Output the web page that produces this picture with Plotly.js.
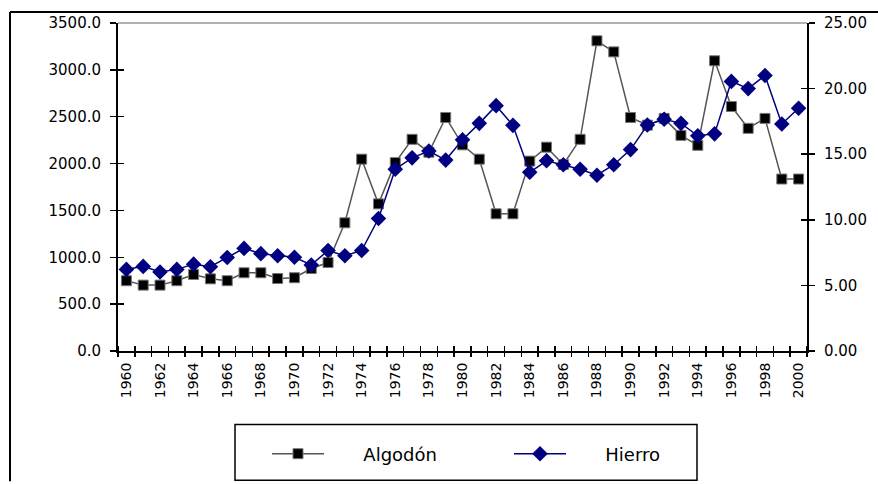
<!DOCTYPE html>
<html>
<head>
<meta charset="utf-8">
<script src="https://cdn.plot.ly/plotly-3.0.1.min.js"></script>
<style>html,body{margin:0;padding:0;background:#fff;}#chart{width:878px;height:484px;}</style>
</head>
<body>
<div id="chart"></div>
<script>
const years = [1960,1961,1962,1963,1964,1965,1966,1967,1968,1969,1970,1971,1972,1973,1974,1975,1976,1977,1978,1979,1980,1981,1982,1983,1984,1985,1986,1987,1988,1989,1990,1991,1992,1993,1994,1995,1996,1997,1998,1999,2000];
const algodon = [750,703,703,750,817,770,750,835,835,774,782,880,944,1368,2047,1570,2010,2259,2121,2492,2200,2047,1464,1464,2026,2175,1990,2259,3310,3192,2492,2410,2482,2301,2195,3097,2609,2376,2482,1835,1835];
const hierro = [6.22,6.45,6.02,6.22,6.62,6.42,7.13,7.82,7.42,7.26,7.14,6.56,7.66,7.26,7.66,10.1,13.86,14.72,15.24,14.55,16.1,17.35,18.7,17.2,13.62,14.5,14.2,13.85,13.4,14.2,15.35,17.22,17.66,17.35,16.4,16.55,20.55,20.0,21.0,17.3,18.5];
const seriesNames = ['Algodón', 'Hierro'];
const leftTicks = [0,500,1000,1500,2000,2500,3000,3500];
const rightTicks = [0,5,10,15,20,25];
const yearLabels = years.filter(y => y % 2 === 0);
const boundaries = years.map(y => y - 0.5).concat([years[years.length-1] + 0.5]);

const xr = [years[0] - 0.5, years[years.length-1] + 0.5];
const fontY = {family: 'DejaVu Sans, Arial, sans-serif', size: 15, color: '#000'};
const fontX = {family: 'DejaVu Sans, Arial, sans-serif', size: 14, color: '#000'};
const gap = '\u00a0\u00a0\u00a0\u00a0\u00a0\u00a0';

const traces = [
  {x: years, y: algodon, name: gap + seriesNames[0], type: 'scatter', mode: 'lines+markers', xaxis: 'x', yaxis: 'y',
   line: {color: '#555555', width: 1.5},
   marker: {symbol: 'square', size: 10, color: '#000', line: {color: '#777', width: 1}}},
  {x: years, y: hierro, name: gap + seriesNames[1], type: 'scatter', mode: 'lines+markers', xaxis: 'x', yaxis: 'y2',
   line: {color: '#000080', width: 1.5},
   marker: {symbol: 'diamond', size: 12, color: '#000080'}},
  {x: [], y: [], xaxis: 'x2', yaxis: 'y3', showlegend: false, hoverinfo: 'skip', type: 'scatter'},
  {x: [], y: [], xaxis: 'x2', yaxis: 'y4', showlegend: false, hoverinfo: 'skip', type: 'scatter'}
];

const P = (px) => (px - 118) / 689;
const Q = (py) => (353 - py) / 330;

const layout = {
  width: 878, height: 484,
  margin: {l: 118, r: 71, t: 23, b: 131, pad: 0},
  paper_bgcolor: '#fff', plot_bgcolor: '#fff',
  showlegend: true,
  xaxis: {range: xr, tickmode: 'array', tickvals: yearLabels, ticktext: yearLabels.map(String),
    tickangle: -90, ticks: '', showgrid: false, zeroline: false,
    showline: true, linecolor: '#000', linewidth: 2, tickfont: fontX, ticklabelstandoff: 4,
    minor: {tickmode: 'array', tickvals: boundaries, ticks: 'inside', ticklen: 5, tickcolor: '#000', tickwidth: 1.5, showgrid: false}},
  xaxis2: {range: xr, overlaying: 'x', anchor: 'y3', side: 'bottom', tickmode: 'array', tickvals: boundaries,
    ticks: 'outside', ticklen: 5, tickwidth: 1.5, tickcolor: '#000', showticklabels: false, showgrid: false, zeroline: false, showline: false},
  yaxis: {range: [0, 3500], tickmode: 'array', tickvals: leftTicks, tickformat: '.1f', ticks: 'outside', ticklen: 6, tickwidth: 1.5, tickcolor: '#000',
    showgrid: false, zeroline: false, showline: true, linecolor: '#000', linewidth: 2, tickfont: fontY, ticklabelstandoff: 6},
  yaxis2: {range: [0, 25], overlaying: 'y', side: 'right', anchor: 'x', tickmode: 'array', tickvals: rightTicks, tickformat: '.2f',
    ticks: 'outside', ticklen: 6, tickwidth: 1.5, tickcolor: '#000', showgrid: false, zeroline: false, showline: true, linecolor: '#000', linewidth: 2,
    tickfont: fontY, ticklabelstandoff: 6},
  yaxis3: {range: [0, 3500], overlaying: 'y', side: 'left', anchor: 'x2', tickmode: 'array', tickvals: leftTicks, ticks: 'inside', ticklen: 6, tickwidth: 1.5,
    tickcolor: '#000', showticklabels: false, showgrid: false, zeroline: false, showline: false},
  yaxis4: {range: [0, 25], overlaying: 'y', side: 'right', anchor: 'x2', tickmode: 'array', tickvals: rightTicks, ticks: 'inside', ticklen: 6, tickwidth: 1.5,
    tickcolor: '#000', showticklabels: false, showgrid: false, zeroline: false, showline: false},
  legend: {orientation: 'h', x: P(267), y: Q(438), xanchor: 'left', yanchor: 'top', bgcolor: 'rgba(0,0,0,0)', borderwidth: 0,
    font: {family: 'DejaVu Sans, Arial, sans-serif', size: 18, color: '#000'}, itemwidth: 52, entrywidth: 175},
  shapes: [
    {type: 'line', xref: 'paper', yref: 'paper', x0: 0, x1: 1, y0: 1, y1: 1, line: {color: '#999', width: 1.5}},
    {type: 'rect', xref: 'paper', yref: 'paper', x0: P(235), x1: P(697), y0: Q(483), y1: Q(427), line: {color: '#000', width: 1.5}, fillcolor: 'rgba(0,0,0,0)'},
    {type: 'line', xref: 'paper', yref: 'paper', x0: P(10), x1: P(878), y0: Q(12), y1: Q(12), line: {color: '#000', width: 2}},
    {type: 'line', xref: 'paper', yref: 'paper', x0: P(10), x1: P(10), y0: Q(12), y1: Q(484), line: {color: '#000', width: 2}}
  ]
};

Plotly.newPlot('chart', traces, layout, {displayModeBar: false, staticPlot: true});
</script>
</body>
</html>
